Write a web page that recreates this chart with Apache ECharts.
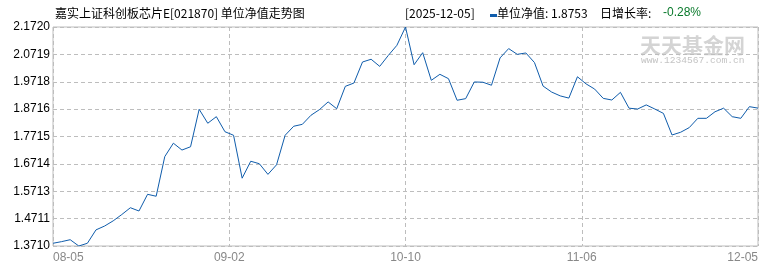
<!DOCTYPE html>
<html>
<head>
<meta charset="utf-8">
<script src="https://cdn.jsdelivr.net/npm/echarts@6/dist/echarts.min.js"></script>
<style>
html,body{margin:0;padding:0;background:#fff;}
#chart{width:770px;height:270px;}
</style>
</head>
<body>
<div id="chart"></div>
<script>
// ---- data ----
var chartTitle = '嘉实上证科创板芯片E[021870] 单位净值走势图';
var latestDate = '[2025-12-05]';
var latestNavText = '单位净值: 1.8753';
var changeLabel = '日增长率: ';
var changeText = '-0.28%';

var xTickLabels = ['08-05', '09-02', '10-10', '11-06', '12-05'];
var yTickLabels = ['1.3710', '1.4711', '1.5713', '1.6714', '1.7715', '1.8716', '1.9718', '2.0719', '2.1720'];
var yMin = 1.3710;
var yMax = 2.1720;

var navValues = [
  1.381, 1.387, 1.394, 1.371, 1.381, 1.430, 1.444, 1.463, 1.486, 1.511,
  1.499, 1.560, 1.553, 1.698, 1.747, 1.722, 1.734, 1.871, 1.820, 1.844,
  1.789, 1.776, 1.619, 1.681, 1.672, 1.633, 1.668, 1.776, 1.809, 1.816,
  1.849, 1.870, 1.898, 1.873, 1.955, 1.967, 2.044, 2.054, 2.028, 2.068,
  2.105, 2.172, 2.034, 2.078, 1.977, 1.999, 1.983, 1.904, 1.910, 1.971,
  1.970, 1.959, 2.059, 2.093, 2.072, 2.077, 2.042, 1.956, 1.934, 1.920,
  1.912, 1.990, 1.964, 1.945, 1.911, 1.905, 1.933, 1.875, 1.872, 1.887,
  1.872, 1.856, 1.777, 1.787, 1.804, 1.838, 1.838, 1.862, 1.875, 1.844,
  1.838, 1.8806, 1.8753
];

// ---- chart ----
var nPts = navValues.length;
var xStep = (nPts - 1) / (xTickLabels.length - 1);
var yStep = (yMax - yMin) / (yTickLabels.length - 1);
var lineData = navValues.map(function (v, i) { return [i, v - yMin]; });

var chart = echarts.init(document.getElementById('chart'), null, {renderer: 'canvas'});
var numFont = 'Liberation Sans, Arial, sans-serif';
var cjkFont = 'Noto Sans CJK SC, sans-serif';

chart.setOption({
  animation: false,
  backgroundColor: '#ffffff',
  grid: {
    left: 53, right: 12, top: 27, bottom: 24,
    show: true, borderColor: '#bdbdbd', borderWidth: 1, backgroundColor: 'transparent'
  },
  xAxis: {
    type: 'value',
    min: 0, max: nPts - 1, interval: xStep,
    axisLine: {show: false},
    axisTick: {show: false},
    splitLine: {show: true, lineStyle: {color: '#bdbdbd', type: [4, 3], width: 1}},
    axisLabel: {
      color: '#888888', fontSize: 12, fontFamily: numFont, margin: 6,
      alignMinLabel: 'left', alignMaxLabel: 'right',
      formatter: function (v) { return xTickLabels[Math.round(v / xStep)] || ''; }
    }
  },
  yAxis: {
    type: 'value',
    min: 0, max: yMax - yMin, interval: yStep,
    axisLine: {show: false},
    axisTick: {show: false},
    splitLine: {show: true, lineStyle: {color: '#bdbdbd', type: [4, 3], width: 1}},
    axisLabel: {
      color: '#000000', fontSize: 12, fontFamily: numFont, margin: 3,
      formatter: function (v) { return yTickLabels[Math.round(v / yStep)] || ''; }
    }
  },
  series: [{
    type: 'line',
    data: lineData,
    showSymbol: false,
    symbol: 'none',
    lineStyle: {color: '#0f5cab', width: 1},
    silent: true
  }],
  graphic: [
    {type: 'text', left: 55, top: 7, style: {text: chartTitle, fill: '#000', font: '12px ' + cjkFont}},
    {type: 'text', left: 405, top: 7, style: {text: latestDate, fill: '#000', font: '12px ' + cjkFont}},
    {type: 'rect', left: 490, top: 14, shape: {width: 7, height: 3}, style: {fill: '#0f5cab'}},
    {type: 'text', left: 497, top: 7, style: {text: latestNavText, fill: '#000', font: '12px ' + cjkFont}},
    {type: 'text', left: 600, top: 7, style: {text: changeLabel, fill: '#000', font: '12px ' + cjkFont}},
    {type: 'text', left: 663, top: 7, style: {text: changeText, fill: '#0a7a2c', font: '12px ' + numFont}},
    {type: 'text', left: 640, top: 35, z: 0, style: {text: '天天基金网', fill: '#d4d4d4', font: 'bold 21px ' + cjkFont}},
    {type: 'text', left: 641, top: 55, z: 0, style: {text: 'www.1234567.com.cn', fill: '#c4c4c4', font: '9.6px Liberation Mono, monospace'}}
  ]
});
</script>
</body>
</html>
